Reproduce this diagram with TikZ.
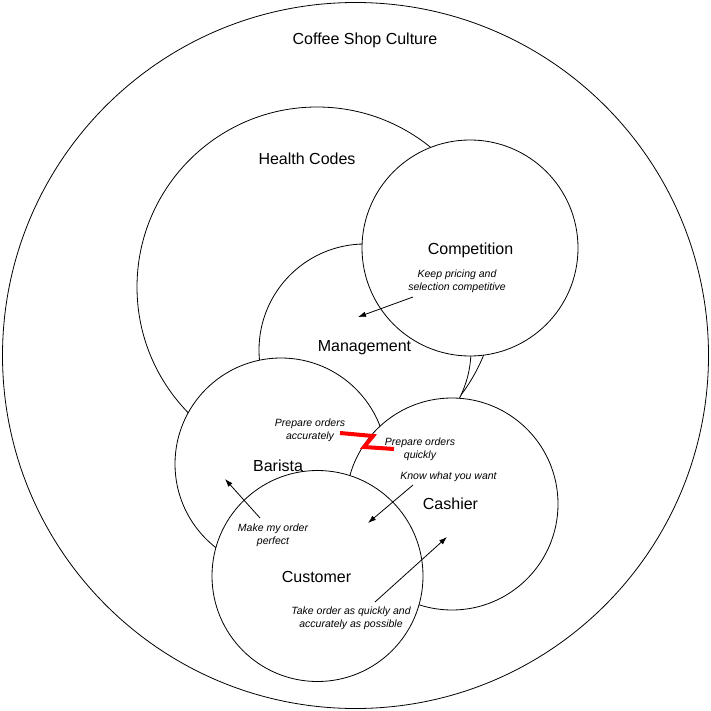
\documentclass[tikz,border=0pt]{standalone}
\usepackage{fontspec}
\setmainfont{Liberation Sans}
\usetikzlibrary{arrows.meta}
\begin{document}
\begin{tikzpicture}[x=1pt,y=-1pt,
  ring/.style={circle,draw=black,fill=white,line width=0.8pt,inner sep=0pt,outer sep=0pt},
  biglabel/.style={font=\fontsize{16}{19}\selectfont,inner sep=0pt},
  note/.style={font=\fontsize{10.5}{12.8}\selectfont\itshape,align=center,inner sep=0pt},
  link/.style={line width=0.8pt,-{Latex[length=8pt,width=5.5pt]}},
  zigzag/.style={red,line width=4pt,line join=miter}]
\useasboundingbox (0,0) rectangle (711,711);
% circles, bottom to top
\node[ring,minimum size=706pt] (culture) at (355.5,355.5) {};
\node[ring,minimum size=360pt] (health) at (317,287) {};
\node[ring,minimum size=212pt] (mgmt) at (365,350) {};
\node[ring,minimum size=216pt] (comp) at (470,248) {};
\node[ring,minimum size=212pt] (barista) at (281,464) {};
\node[ring,minimum size=212pt] (cashier) at (452,504) {};
\node[ring,minimum size=211pt] (customer) at (317.5,576) {};
% labels
\node[biglabel] (tculture) at (365,40) {Coffee Shop Culture};
\node[biglabel] (thealth) at (307,159) {Health Codes};
\node[biglabel] (tcomp) at (470.5,250) {Competition};
\node[biglabel] (tmgmt) at (364.5,348) {Management};
\node[biglabel] (tbarista) at (278,466) {Barista};
\node[biglabel] (tcashier) at (450.5,504) {Cashier};
\node[biglabel] (tcustomer) at (316.5,577) {Customer};
\node[note] (nkeep) at (457,281) {Keep pricing and\\selection competitive};
\node[note] (naccur) at (310,430) {Prepare orders\\accurately};
\node[note] (nquick) at (420,449) {Prepare orders\\quickly};
\node[note] (nknow) at (448.5,477) {Know what you want};
\node[note] (nperfect) at (273,535) {Make my order\\perfect};
\node[note] (ntake) at (351,618) {Take order as quickly and\\accurately as possible};
% arrow ends
\coordinate (k0) at (413,297);
\coordinate (k1) at (358,317);
\coordinate (w0) at (413,485);
\coordinate (w1) at (368,523);
\coordinate (p0) at (260,518);
\coordinate (p1) at (225,479);
\coordinate (t0) at (375,602);
\coordinate (t1) at (447,537);
\draw[link] (k0) -- (k1);
\draw[link] (w0) -- (w1);
\draw[link] (p0) -- (p1);
\draw[link] (t0) -- (t1);
% red zigzag
\coordinate (z0) at (340,433);
\coordinate (z1) at (373,436);
\coordinate (z2) at (364,447);
\coordinate (z3) at (394,449);
\draw[zigzag] (z0) -- (z1) -- (z2) -- (z3);
\end{tikzpicture}
\end{document}
